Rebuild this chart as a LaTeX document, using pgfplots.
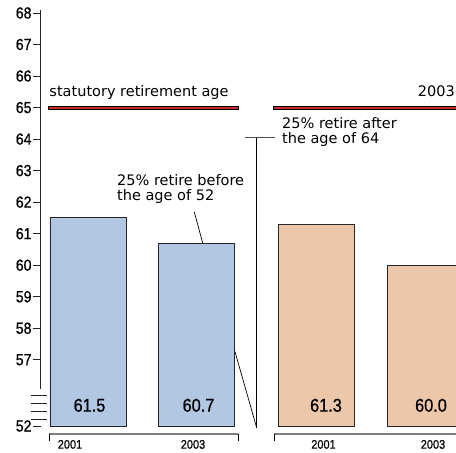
\documentclass[border=0pt]{standalone}
\usepackage{pgfplots}
\pgfplotsset{compat=1.18}
\usepackage{fontspec}
\setmainfont{DejaVu Sans}
\newfontfamily\txtfont{DejaVu Sans}
\newfontfamily\numfont[FakeStretch=0.88, FakeBold=0.7]{Liberation Sans}
\definecolor{barblue}{RGB}{178,199,225}
\definecolor{barorange}{RGB}{236,199,170}
\definecolor{retred}{RGB}{200,45,45}
\begin{document}
\begin{tikzpicture}
\useasboundingbox (0,0) rectangle (456pt,453pt);
\clip (0,0) rectangle (456pt,453pt);
\begin{axis}[
  at={(40.7pt,27pt)}, anchor=south west,
  x=1pt, y=31.53pt,
  xmin=40.7, xmax=456, ymin=52, ymax=68.1,
  y coord trafo/.code={\pgfmathparse{#1<56 ? #1-52 : #1-54.9}},
  y coord inv trafo/.code={\pgfmathparse{#1<1 ? #1+52 : #1+54.9}},
  clip=false,
  axis lines*=left,
  axis line style={draw=none},
  xtick=\empty,
  ytick={52,57,58,59,60,61,62,63,64,65,66,67,68},
  yticklabels={52,57,58,59,60,61,62,63,64,65,66,67,68},
  ytick pos=left,
  tick align=outside,
  major tick length=7.5pt,
  tick style={black!85, line width=0.8pt},
  yticklabel style={font=\numfont\fontsize{16}{16}\selectfont, inner xsep=1.5pt},
]
% bars
\addplot[ybar, bar width=76pt, bar shift=0pt, fill=barblue, draw=black!85, line width=0.8pt]
  coordinates {(88,61.5) (196.8,60.7)};
\addplot[ybar, bar width=76pt, bar shift=0pt, fill=barorange, draw=black!85, line width=0.8pt]
  coordinates {(316,61.3) (425,60.0)};
% y axis line and break marks
\addplot[black!85, line width=0.8pt] coordinates {(40.7,53.17) (40.7,68.1)};
\addplot[black!85, line width=0.8pt] coordinates {(31,52.222) (47,52.222)};
\addplot[black!85, line width=0.8pt] coordinates {(31,52.476) (47,52.476)};
\addplot[black!85, line width=0.8pt] coordinates {(31,52.729) (47,52.729)};
\addplot[black!85, line width=0.8pt] coordinates {(31,52.983) (47,52.983)};
% statutory retirement age line
\addplot[black, line width=4pt] coordinates {(48,65) (239,65)};
\addplot[retred, line width=2pt] coordinates {(49,65) (238,65)};
\addplot[black, line width=4pt] coordinates {(273,65) (470,65)};
\addplot[retred, line width=2pt] coordinates {(274,65) (470,65)};
% quartile annotations
\addplot[black, line width=0.7pt] coordinates {(194.3,61.69) (202.7,60.7)};
\addplot[black, line width=0.7pt] coordinates {(235,57.257) (256.7,51.94)};
\addplot[black, line width=0.7pt] coordinates {(256.7,64.05) (256.7,51.94)};
\addplot[black!70, line width=0.9pt] coordinates {(245,64.05) (275,64.05)};
% group brackets
\addplot[gray, line width=1.5pt] coordinates {(49,51.746) (238,51.746)};
\addplot[black, line width=0.8pt] coordinates {(49,51.746) (49,51.52)};
\addplot[black, line width=0.8pt] coordinates {(238,51.746) (238,51.52)};
\addplot[gray, line width=1.5pt] coordinates {(274,51.746) (470,51.746)};
\addplot[black, line width=0.8pt] coordinates {(274,51.746) (274,51.52)};
% texts
\begin{scope}[every node/.style={inner sep=0pt}]
\node[anchor=base west, font=\txtfont\fontsize{14.5}{14.5}\selectfont] at (axis cs:49.3,65.347) {statutory retirement age};
\node[anchor=base east, font=\txtfont\fontsize{14.5}{14.5}\selectfont] at (axis cs:455,65.347) {2003};
\node[anchor=base west, font=\txtfont\fontsize{14.5}{14.5}\selectfont] at (axis cs:117,62.512) {25\% retire before};
\node[anchor=base west, font=\txtfont\fontsize{14.5}{14.5}\selectfont] at (axis cs:117,62.052) {the age of 52};
\node[anchor=base west, font=\txtfont\fontsize{14.5}{14.5}\selectfont] at (axis cs:282,64.32) {25\% retire after};
\node[anchor=base west, font=\txtfont\fontsize{14.5}{14.5}\selectfont] at (axis cs:282,63.844) {the age of 64};
\node[anchor=base, font=\numfont\fontsize{18.5}{18.5}\selectfont] at (axis cs:89.5,52.454) {61.5};
\node[anchor=base, font=\numfont\fontsize{18.5}{18.5}\selectfont] at (axis cs:198.5,52.454) {60.7};
\node[anchor=base, font=\numfont\fontsize{18.5}{18.5}\selectfont] at (axis cs:326,52.454) {61.3};
\node[anchor=base, font=\numfont\fontsize{18.5}{18.5}\selectfont] at (axis cs:431,52.454) {60.0};
\node[anchor=base, font=\numfont\fontsize{12.5}{12.5}\selectfont] at (axis cs:70,51.28) {2001};
\node[anchor=base, font=\numfont\fontsize{12.5}{12.5}\selectfont] at (axis cs:193,51.28) {2003};
\node[anchor=base, font=\numfont\fontsize{12.5}{12.5}\selectfont] at (axis cs:323.5,51.28) {2001};
\node[anchor=base, font=\numfont\fontsize{12.5}{12.5}\selectfont] at (axis cs:433,51.28) {2003};
\end{scope}
\end{axis}
\end{tikzpicture}
\end{document}
